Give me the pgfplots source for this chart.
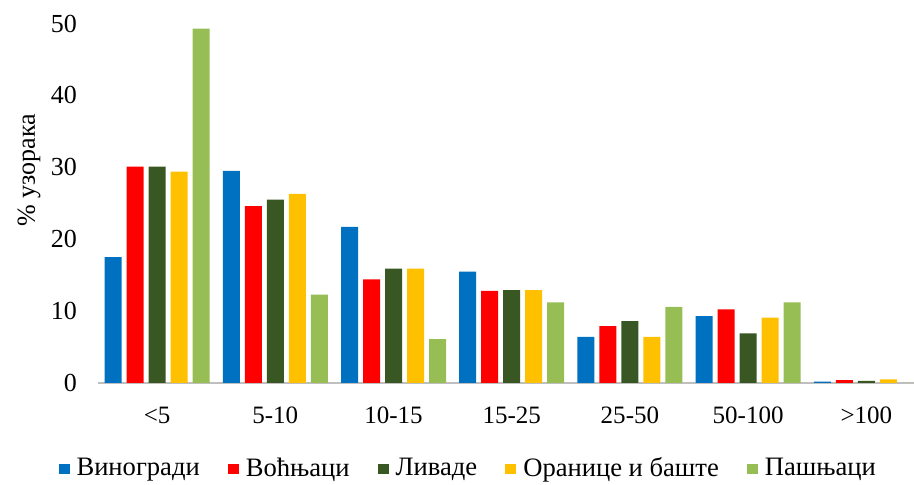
\documentclass[border=0pt]{standalone}
\usepackage{fontspec}
\setmainfont{Liberation Serif}
\usepackage{pgfplots}
\pgfplotsset{compat=1.18}
\definecolor{cBlue}{RGB}{0,112,192}
\definecolor{cRed}{RGB}{255,0,0}
\definecolor{cDG}{RGB}{56,87,35}
\definecolor{cY}{RGB}{255,192,0}
\definecolor{cLG}{RGB}{150,190,85}
\definecolor{cAx}{RGB}{191,191,191}
\begin{document}
\begin{tikzpicture}
\begin{axis}[
  at={(0,0)}, anchor=south west,
  scale only axis, width=407.8pt, height=179.75pt,
  xmin=-0.5, xmax=6.4, ymin=0, ymax=50,
  ybar=2.5pt, bar width=8.5pt,
  xtick={0,1,2,3,4,5,6},
  xticklabels={{<5},{5-10},{10-15},{15-25},{25-50},{50-100},{>100}},
  ytick={0,10,20,30,40,50},
  axis lines*=left,
  x axis line style={draw=cAx, line width=0.9pt, -},
  y axis line style={draw=none},
  tick style={draw=none},
  major tick length=0pt,
  /pgf/number format/assume math mode=true,
  xticklabel style={font=\fontsize{12.5}{14}\selectfont, yshift=-8.5pt},
  yticklabel style={font=\fontsize{13}{15}\selectfont, xshift=-7pt},
  ylabel={\% узорака},
  ylabel style={at={(axis description cs:-0.0846,0.592)}, anchor=center, font=\fontsize{13}{15}\selectfont},
  legend style={at={(axis description cs:0.457,-0.238)}, anchor=center, draw=none, fill=none,
    font=\fontsize{13.3}{15}\selectfont, legend columns=-1,
    /tikz/every even column/.append style={column sep=10.5pt},
    nodes={inner xsep=3.5pt}},
  legend image code/.code={\fill[#1] (0pt,-2.5pt) rectangle (5.5pt,2.5pt);},
]
\addplot[fill=cBlue, draw=none] coordinates {(0,17.5) (1,29.5) (2,21.7) (3,15.5) (4,6.4) (5,9.3) (6,0.2)};
\addplot[fill=cRed, draw=none] coordinates {(0,30.1) (1,24.6) (2,14.4) (3,12.8) (4,7.9) (5,10.25) (6,0.4)};
\addplot[fill=cDG, draw=none] coordinates {(0,30.1) (1,25.5) (2,15.9) (3,12.9) (4,8.6) (5,6.9) (6,0.3)};
\addplot[fill=cY, draw=none] coordinates {(0,29.4) (1,26.3) (2,15.9) (3,12.9) (4,6.4) (5,9.1) (6,0.5)};
\addplot[fill=cLG, draw=none] coordinates {(0,49.3) (1,12.3) (2,6.1) (3,11.2) (4,10.6) (5,11.2) (6,0)};
\legend{Виногради, Воћњаци, Ливаде, Оранице и баште, Пашњаци}
\end{axis}
\pgfresetboundingbox
\useasboundingbox (-49pt,-51pt) rectangle (408pt,191.5pt);
\end{tikzpicture}
\end{document}
